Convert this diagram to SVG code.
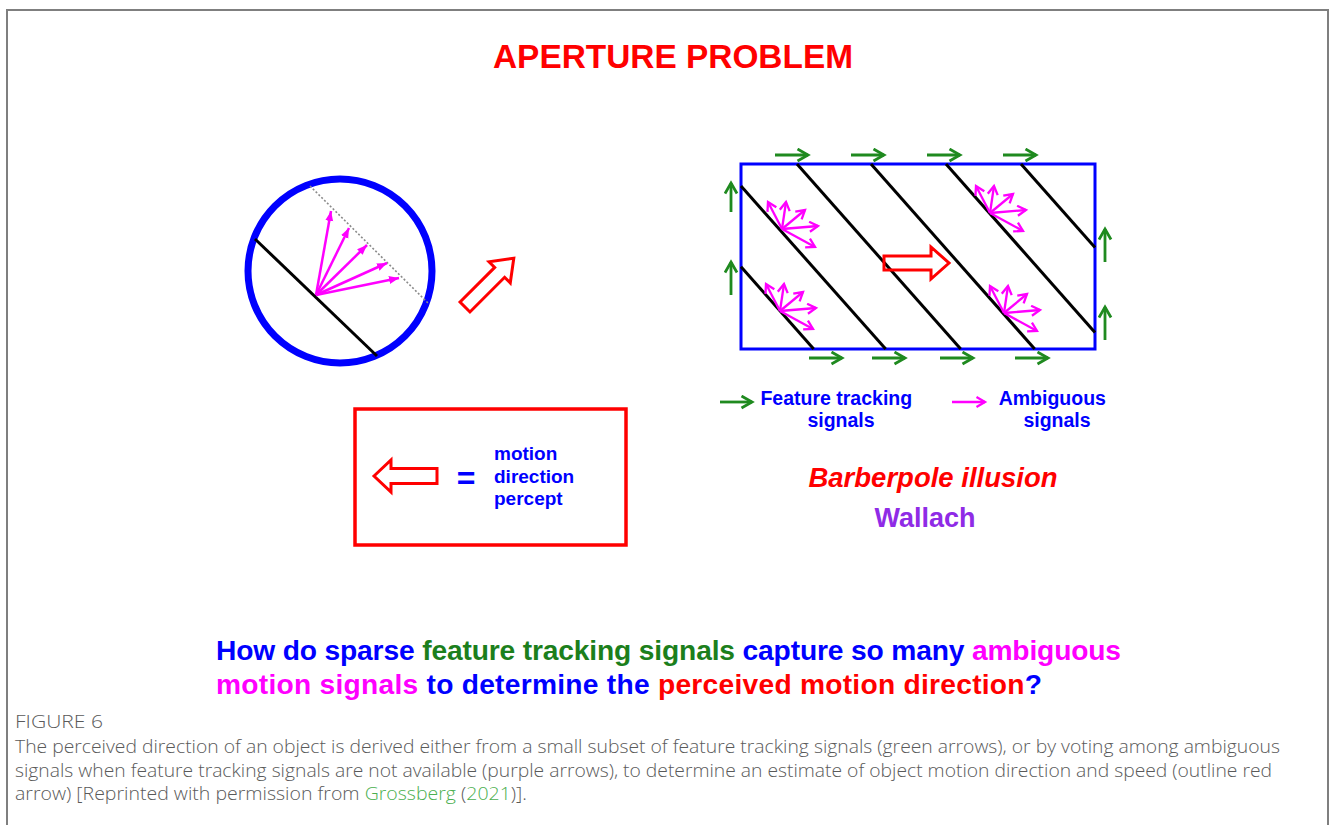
<svg xmlns="http://www.w3.org/2000/svg" width="1330" height="825" viewBox="0 0 1330 825">
  <defs>
    <style>
      .bold { font-family: "Liberation Sans", Arial, sans-serif; font-weight: bold; }
      .blue { fill: #0000ff; }
      .red { fill: #ff0000; }
      .grn { fill: #1c7f1c; }
      .mag { fill: #ff00ff; }
      .feat { stroke: #1f8a1f; stroke-width: 2.8; fill: none; marker-end: url(#gHead); }
      .amb { stroke: #ff00ff; stroke-width: 2.3; fill: none; marker-end: url(#mHead); }
      .vote { stroke: #ff00ff; stroke-width: 2.5; fill: none; marker-end: url(#mFill); }
      .bar { stroke: #000; stroke-width: 3; }
      .outline { fill: none; stroke: #ff0000; stroke-width: 3; stroke-linejoin: miter; }
      .cap { font-family: "Open Sans", "Noto Sans", sans-serif; font-weight: 300; fill: #5a5a5a; font-size: 18px; }
    </style>
    <marker id="gHead" markerUnits="userSpaceOnUse" markerWidth="16" markerHeight="16" refX="12" refY="7" orient="auto">
      <path d="M1.5,1 L12,7 L1.5,13" fill="none" stroke="#1f8a1f" stroke-width="2.8"/>
    </marker>
    <marker id="mHead" markerUnits="userSpaceOnUse" markerWidth="14" markerHeight="14" refX="10" refY="6" orient="auto">
      <path d="M1.5,1 L10,6 L1.5,11" fill="none" stroke="#ff00ff" stroke-width="2.3"/>
    </marker>
    <marker id="mFill" markerUnits="userSpaceOnUse" markerWidth="12" markerHeight="10" refX="10" refY="4" orient="auto">
      <path d="M0,0 L10,4 L0,8 Z" fill="#ff00ff"/>
    </marker>
  </defs>

  <rect width="1330" height="825" fill="#ffffff"/>
  <!-- page frame -->
  <path d="M7,826 V10 H1328 V826" fill="none" stroke="#7f7f7f" stroke-width="2"/>

  <!-- title -->
  <text class="bold red" x="493" y="68" font-size="34" textLength="360" lengthAdjust="spacingAndGlyphs">APERTURE PROBLEM</text>

  <!-- circular aperture -->
  <g id="aperture">
    <circle cx="340" cy="271" r="92" fill="#fff" stroke="#0000ff" stroke-width="7"/>
    <line class="bar" x1="255" y1="239" x2="377" y2="356"/>
    <line x1="310" y1="186" x2="428" y2="303" stroke="#8a8a8a" stroke-width="1.6" stroke-dasharray="2 2"/>
    <line class="vote" x1="316" y1="295" x2="331" y2="211"/>
    <line class="vote" x1="316" y1="295" x2="349" y2="228"/>
    <line class="vote" x1="316" y1="295" x2="367" y2="245"/>
    <line class="vote" x1="316" y1="295" x2="387" y2="263"/>
    <line class="vote" x1="316" y1="295" x2="399" y2="278"/>
  </g>

  <!-- perceived direction through the aperture -->
  <g id="aperture-percept">
    <path class="outline" transform="translate(465,307) rotate(-45)" d="M0,-7 L49,-7 L49,-15 L69,0 L49,15 L49,7 L0,7 Z"/>
  </g>

  <!-- legend box -->
  <g id="percept-key">
    <rect x="355" y="409" width="271" height="136" fill="none" stroke="#ff0000" stroke-width="3.5"/>
    <path class="outline" d="M374,476 L391,460 L391,468.5 L437,468.5 L437,483.5 L391,483.5 L391,492 Z"/>
    <text class="bold blue" x="466" y="489" font-size="32" text-anchor="middle">=</text>
    <text class="bold blue" font-size="19">
      <tspan x="494" y="460">motion</tspan>
      <tspan x="494" y="483">direction</tspan>
      <tspan x="494" y="505">percept</tspan>
    </text>
  </g>

  <!-- barberpole -->
  <g id="barberpole">
    <rect x="741" y="164" width="354" height="185" fill="#fff" stroke="#0000ff" stroke-width="3"/>
    <g class="stripes">
      <line class="bar" x1="741" y1="266.8" x2="813.7" y2="349"/>
      <line class="bar" x1="741" y1="186" x2="885.7" y2="349"/>
      <line class="bar" x1="797" y1="164" x2="960.7" y2="349"/>
      <line class="bar" x1="871" y1="164" x2="1034.7" y2="349"/>
      <line class="bar" x1="946" y1="164" x2="1095" y2="332.4"/>
      <line class="bar" x1="1021" y1="164" x2="1095" y2="247.6"/>
    </g>
    <path class="outline" d="M884,256 L931,256 L931,247 L949,263 L931,279 L931,270 L884,270 Z"/>
  </g>

  <!-- ambiguous signals inside the barberpole -->
  <g id="ambiguous-clusters">
    <g transform="translate(782,229)">
      <line class="amb" x1="0" y1="0" x2="-14" y2="-27"/>
      <line class="amb" x1="0" y1="0" x2="4" y2="-27"/>
      <line class="amb" x1="0" y1="0" x2="23" y2="-19"/>
      <line class="amb" x1="0" y1="0" x2="36" y2="-3"/>
      <line class="amb" x1="0" y1="0" x2="33" y2="18"/>
    </g>
    <g transform="translate(780,311)">
      <line class="amb" x1="0" y1="0" x2="-14" y2="-27"/>
      <line class="amb" x1="0" y1="0" x2="4" y2="-27"/>
      <line class="amb" x1="0" y1="0" x2="23" y2="-19"/>
      <line class="amb" x1="0" y1="0" x2="36" y2="-3"/>
      <line class="amb" x1="0" y1="0" x2="33" y2="18"/>
    </g>
    <g transform="translate(990,213)">
      <line class="amb" x1="0" y1="0" x2="-14" y2="-27"/>
      <line class="amb" x1="0" y1="0" x2="4" y2="-27"/>
      <line class="amb" x1="0" y1="0" x2="23" y2="-19"/>
      <line class="amb" x1="0" y1="0" x2="36" y2="-3"/>
      <line class="amb" x1="0" y1="0" x2="33" y2="18"/>
    </g>
    <g transform="translate(1004,313)">
      <line class="amb" x1="0" y1="0" x2="-14" y2="-27"/>
      <line class="amb" x1="0" y1="0" x2="4" y2="-27"/>
      <line class="amb" x1="0" y1="0" x2="23" y2="-19"/>
      <line class="amb" x1="0" y1="0" x2="36" y2="-3"/>
      <line class="amb" x1="0" y1="0" x2="33" y2="18"/>
    </g>
  </g>

  <!-- feature tracking signals along the border -->
  <g id="feature-signals">
    <line class="feat" x1="775" y1="155" x2="808" y2="155"/>
    <line class="feat" x1="851" y1="155" x2="884" y2="155"/>
    <line class="feat" x1="927" y1="155" x2="960" y2="155"/>
    <line class="feat" x1="1003" y1="155" x2="1036" y2="155"/>
    <line class="feat" x1="809" y1="358" x2="842" y2="358"/>
    <line class="feat" x1="872" y1="358" x2="905" y2="358"/>
    <line class="feat" x1="940" y1="358" x2="973" y2="358"/>
    <line class="feat" x1="1015" y1="358" x2="1048" y2="358"/>
    <line class="feat" x1="731" y1="212" x2="731" y2="183"/>
    <line class="feat" x1="731" y1="295" x2="731" y2="262"/>
    <line class="feat" x1="1105" y1="262" x2="1105" y2="229"/>
    <line class="feat" x1="1105" y1="340" x2="1105" y2="307"/>
  </g>

  <!-- signal legend -->
  <g id="signal-legend">
    <line class="feat" x1="720" y1="402" x2="752" y2="402"/>
    <text class="bold blue" font-size="19.5" text-anchor="middle">
      <tspan x="839" y="405">Feature tracking</tspan>
      <tspan x="841" y="427">signals</tspan>
    </text>
    <line class="amb" x1="952" y1="402" x2="985" y2="402"/>
    <text class="bold blue" font-size="19.5" text-anchor="middle">
      <tspan x="1055" y="405">Ambiguous</tspan>
      <tspan x="1057" y="427">signals</tspan>
    </text>
  </g>

  <g id="illusion-label">
    <text class="bold red" x="933" y="487" font-size="27.5" font-style="italic" text-anchor="middle">Barberpole illusion</text>
    <text class="bold" x="925" y="527" font-size="27" fill="#8f2be6" text-anchor="middle">Wallach</text>
  </g>

  <!-- question -->
  <g id="question" class="bold" font-size="28.2">
    <text x="216" y="660" textLength="905" lengthAdjust="spacing"><tspan class="blue">How do sparse </tspan><tspan class="grn">feature tracking signals </tspan><tspan class="blue">capture so many </tspan><tspan class="mag">ambiguous</tspan></text>
    <text x="216" y="694" textLength="826" lengthAdjust="spacing"><tspan class="mag">motion signals </tspan><tspan class="blue">to determine the </tspan><tspan class="red">perceived motion direction</tspan><tspan class="blue">?</tspan></text>
  </g>

  <!-- caption -->
  <g id="caption">
    <text class="cap" x="15" y="728" font-size="15" fill="#555" textLength="88" lengthAdjust="spacingAndGlyphs">FIGURE 6</text>
    <text class="cap" x="15" y="753" textLength="1265" lengthAdjust="spacingAndGlyphs">The perceived direction of an object is derived either from a small subset of feature tracking signals (green arrows), or by voting among ambiguous</text>
    <text class="cap" x="15" y="777" textLength="1257" lengthAdjust="spacingAndGlyphs">signals when feature tracking signals are not available (purple arrows), to determine an estimate of object motion direction and speed (outline red</text>
    <text class="cap" x="15" y="800" textLength="512" lengthAdjust="spacingAndGlyphs">arrow) [Reprinted with permission from <tspan fill="#4caf50">Grossberg</tspan> (<tspan fill="#4caf50">2021</tspan>)].</text>
  </g>
</svg>
